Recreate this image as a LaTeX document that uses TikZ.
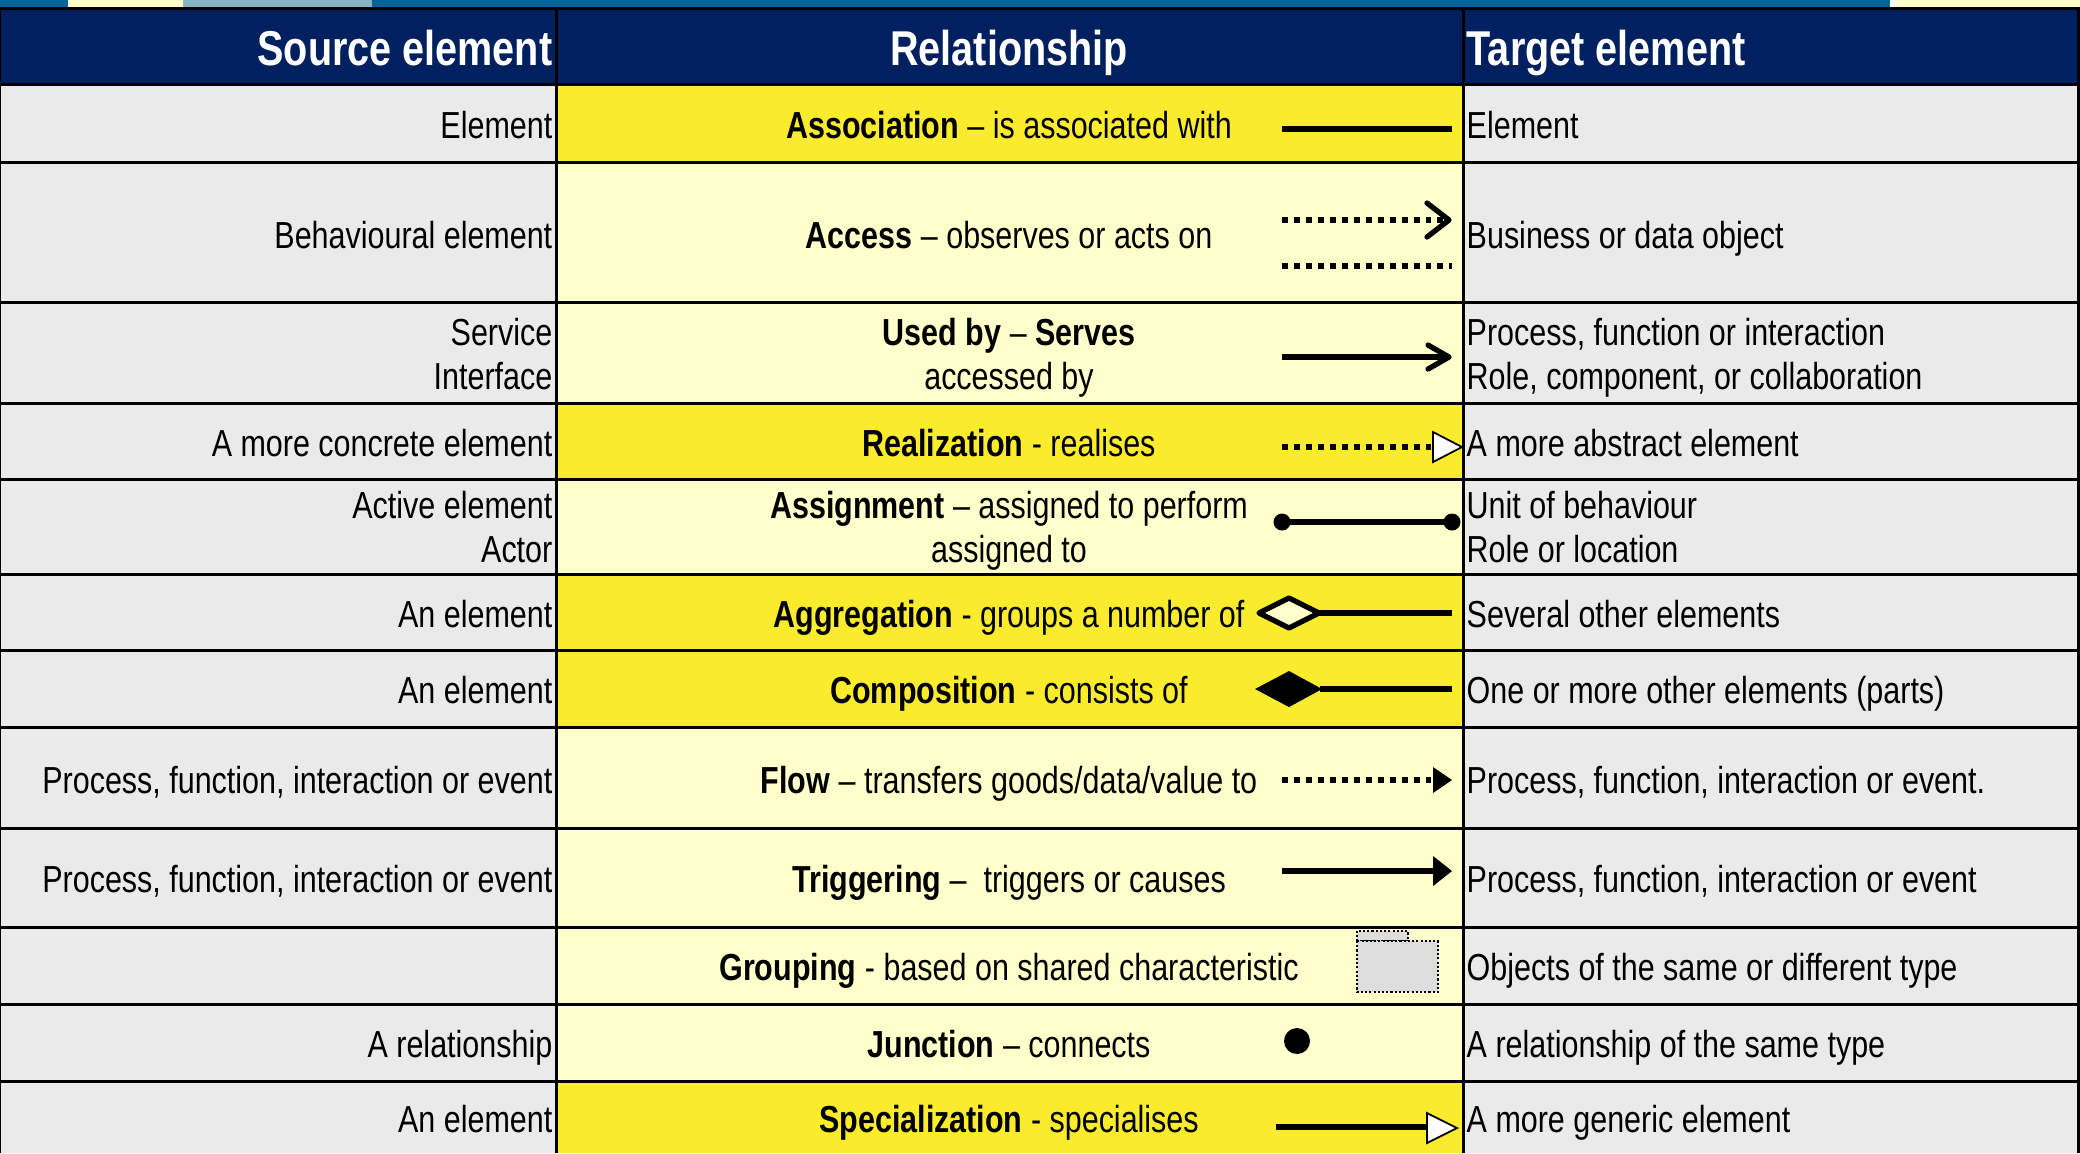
\documentclass[tikz,border=0pt]{standalone}
\usepackage{fontspec}
\setmainfont[FakeStretch=0.81]{Liberation Sans}
\definecolor{navy}{RGB}{0,32,96}
\definecolor{brightY}{RGB}{250,235,45}
\definecolor{paleY}{RGB}{255,255,204}
\definecolor{cellgray}{RGB}{234,234,234}
\definecolor{stripteal}{RGB}{0,102,153}
\definecolor{stripblue}{RGB}{135,181,197}
\definecolor{groupgray}{RGB}{221,221,221}
\tikzset{
  body/.style={font=\fontsize{10.7}{12.8}\selectfont, inner sep=0pt},
  src/.style={body, anchor=base east},
  rel/.style={body, anchor=base},
  tgt/.style={body, anchor=base west},
  hdr/.style={font=\bfseries\fontsize{13.9}{16}\selectfont, text=white, inner sep=0pt},
  grid/.style={draw=black, line width=0.85pt},
  lnk/.style={line width=1.5pt},
  dotl/.style={line width=1.5pt, dash pattern=on 1.7pt off 1.7pt},
  chev/.style={line width=1.5pt, line cap=round, line join=round},
  opentri/.style={draw=black, fill=white, line width=0.5pt},
  filltri/.style={fill=black},
}
\begin{document}
\begin{tikzpicture}[x=0.01cm,y=-0.01cm]
\useasboundingbox (0,0) rectangle (2080,1153);
% top strip
\fill[stripteal] (0,0) rectangle (2080,8);
\fill[paleY] (68,0) rectangle (183,7);
\fill[stripblue] (183,0) rectangle (372,7);
\fill[white] (1890,0) rectangle (1896,7);
\fill[paleY] (1896,0) rectangle (2080,7);
% header
\fill[navy] (0,8) rectangle (2080,84);
% cells
\foreach \a/\b/\c in {84/162/brightY,162/302/paleY,302/403/paleY,403/479/brightY,479/574/paleY,574/650/brightY,650/727/brightY,727/828/paleY,828/927/paleY,927/1004/paleY,1004/1081/paleY,1081/1153/brightY}{
  \fill[cellgray] (0,\a) rectangle (556,\b);
  \fill[\c] (556,\a) rectangle (1463,\b);
  \fill[cellgray] (1463,\a) rectangle (2080,\b);
}
% grid lines
\foreach \yy in {8,84,162,302,403,479,574,650,727,828,927,1004,1081}{
  \draw[grid] (0,\yy) -- (2080,\yy);
}
\draw[grid] (0,8) -- (0,1153);
\draw[grid] (556,8) -- (556,1153);
\draw[grid] (1463,8) -- (1463,1153);
\draw[grid] (2078,8) -- (2078,1153);
% header text
\node[hdr, anchor=base east] (hs) at (553,65) {Source element};
\node[hdr, anchor=base] (hr) at (1009,65) {Relationship};
\node[hdr, anchor=base west] (ht) at (1466,65) {Target element};

% row 1 Association
\node[src] (s1) at (553,138) {Element};
\node[rel] (r1) at (1009,138) {\textbf{Association} – is associated with};
\node[tgt] (t1) at (1466,138) {Element};
\coordinate (a1s) at (1282,129); \coordinate (a1e) at (1452,129);
\draw[lnk] (a1s) -- (a1e);

% row 2 Access
\node[src] (s2) at (553,248) {Behavioural element};
\node[rel] (r2) at (1009,248) {\textbf{Access} – observes or acts on};
\node[tgt] (t2) at (1466,248) {Business or data object};
\coordinate (a2s) at (1282,220); \coordinate (a2e) at (1449,220);
\draw[dotl] (a2s) -- (a2e);
\draw[chev] (1427,203) -- (a2e) -- (1427,237);
\coordinate (a2bs) at (1282,266); \coordinate (a2be) at (1452,266);
\draw[dotl] (a2bs) -- (a2be);

% row 3 Used by
\node[src] (s3a) at (553,345) {Service};
\node[src] (s3b) at (553,389) {Interface};
\node[rel] (r3a) at (1009,345) {\textbf{Used by} – \textbf{Serves}};
\node[rel] (r3b) at (1009,389) {accessed by};
\node[tgt] (t3a) at (1466,345) {Process, function or interaction};
\node[tgt] (t3b) at (1466,389) {Role, component, or collaboration};
\coordinate (a3s) at (1282,357); \coordinate (a3e) at (1449,357);
\draw[lnk] (a3s) -- (a3e);
\draw[chev] (1428,345) -- (a3e) -- (1428,369);

% row 4 Realization
\node[src] (s4) at (553,456) {A more concrete element};
\node[rel] (r4) at (1009,456) {\textbf{Realization} - realises};
\node[tgt] (t4) at (1466,456) {A more abstract element};
\coordinate (a4s) at (1282,447); \coordinate (a4e) at (1433,447);
\draw[dotl] (a4s) -- (a4e);
\draw[opentri] (1433,432) -- (1462,447) -- (1433,462) -- cycle;

% row 5 Assignment
\node[src] (s5a) at (553,518) {Active element};
\node[src] (s5b) at (553,562) {Actor};
\node[rel] (r5a) at (1009,518) {\textbf{Assignment} – assigned to perform};
\node[rel] (r5b) at (1009,562) {assigned to};
\node[tgt] (t5a) at (1466,518) {Unit of behaviour};
\node[tgt] (t5b) at (1466,562) {Role or location};
\coordinate (a5s) at (1282,522); \coordinate (a5e) at (1452,522);
\draw[lnk] (a5s) -- (a5e);
\fill (a5s) circle [radius=0.085cm];
\fill (a5e) circle [radius=0.085cm];

% row 6 Aggregation
\node[src] (s6) at (553,627) {An element};
\node[rel] (r6) at (1009,627) {\textbf{Aggregation} - groups a number of};
\node[tgt] (t6) at (1466,627) {Several other elements};
\coordinate (a6s) at (1319,613); \coordinate (a6e) at (1452,613);
\draw[lnk] (a6s) -- (a6e);
\draw[line width=1.5pt, fill=paleY, line join=round] (1259,613) -- (1289,598) -- (a6s) -- (1289,628) -- cycle;

% row 7 Composition
\node[src] (s7) at (553,703) {An element};
\node[rel] (r7) at (1009,703) {\textbf{Composition} - consists of};
\node[tgt] (t7) at (1466,703) {One or more other elements (parts)};
\coordinate (a7s) at (1320,689); \coordinate (a7e) at (1452,689);
\draw[lnk] (a7s) -- (a7e);
\fill (1255,689) -- (1289,671) -- (1322,689) -- (1289,707) -- cycle;

% row 8 Flow
\node[src] (s8) at (553,793) {Process, function, interaction or event};
\node[rel] (r8) at (1009,793) {\textbf{Flow} – transfers goods/data/value to};
\node[tgt] (t8) at (1466,793) {Process, function, interaction or event.};
\coordinate (a8s) at (1282,780); \coordinate (a8e) at (1434,780);
\draw[dotl] (a8s) -- (a8e);
\fill[filltri] (1433,767) -- (1452,780) -- (1433,793) -- cycle;

% row 9 Triggering
\node[src] (s9) at (553,892) {Process, function, interaction or event};
\node[rel] (r9) at (1009,892) {\textbf{Triggering} –\ \ triggers or causes};
\node[tgt] (t9) at (1466,892) {Process, function, interaction or event};
\coordinate (a9s) at (1282,871); \coordinate (a9e) at (1434,871);
\draw[lnk] (a9s) -- (a9e);
\fill[filltri] (1433,856) -- (1452,871) -- (1433,886) -- cycle;

% row 10 Grouping
\node[rel] (r10) at (1009,980) {\textbf{Grouping} - based on shared characteristic};
\node[tgt] (t10) at (1466,980) {Objects of the same or different type};
\draw[fill=groupgray, line width=0.4pt, dash pattern=on 0.6pt off 0.6pt] (1357,931) rectangle (1408,941);
\draw[fill=groupgray, line width=0.4pt, dash pattern=on 0.6pt off 0.6pt] (1357,941) rectangle (1438,992);

% row 11 Junction
\node[src] (s11) at (553,1057) {A relationship};
\node[rel] (r11) at (1009,1057) {\textbf{Junction} – connects};
\node[tgt] (t11) at (1466,1057) {A relationship of the same type};
\coordinate (j11) at (1297,1041);
\fill (j11) circle [radius=0.13cm];

% row 12 Specialization
\node[src] (s12) at (553,1132) {An element};
\node[rel] (r12) at (1009,1132) {\textbf{Specialization} - specialises};
\node[tgt] (t12) at (1466,1132) {A more generic element};
\coordinate (a12s) at (1276,1127); \coordinate (a12e) at (1427,1127);
\draw[lnk] (a12s) -- (a12e);
\draw[opentri] (1427,1113) -- (1457,1128) -- (1427,1143) -- cycle;
\end{tikzpicture}
\end{document}
